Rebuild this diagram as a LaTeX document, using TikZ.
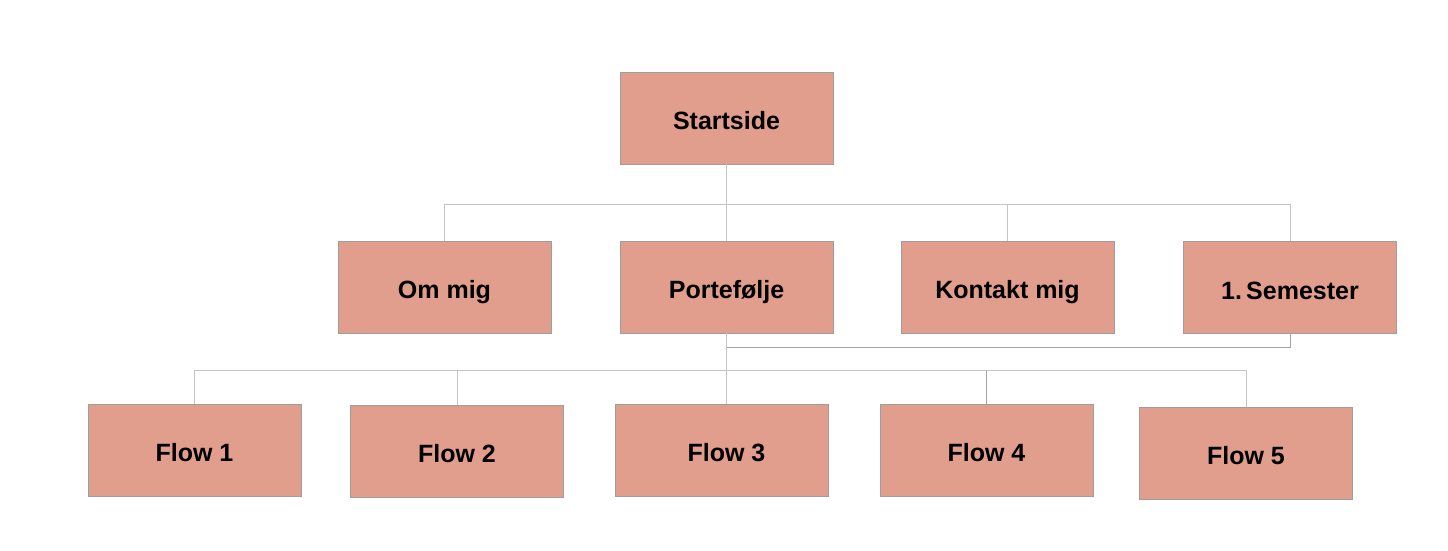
\documentclass[tikz,border=0pt]{standalone}
\usepackage{fontspec}
\setmainfont{Liberation Sans}
\definecolor{boxfill}{HTML}{E29E8C}
\definecolor{boxline}{HTML}{9E9E9E}
\definecolor{conn}{HTML}{C4C4C4}
\definecolor{conndark}{HTML}{A4A4A4}
\begin{document}
\begin{tikzpicture}[x=1pt,y=-1pt,
  pagebox/.style={draw=boxline, line width=0.8pt, fill=boxfill, minimum width=213pt, minimum height=92pt, inner sep=0pt, text height=23pt, text depth=0pt, font=\fontsize{25}{30}\selectfont\bfseries, text=black},
  link/.style={draw=conn, line width=1pt},
  linkdark/.style={draw=conndark, line width=1pt}]
\useasboundingbox (0,0) rectangle (1448,550);
\node[pagebox] (start) at (726.5,118) {Startside};
\node[pagebox] (om) at (444.5,287) {Om mig};
\node[pagebox] (port) at (726.5,287) {Portefølje};
\node[pagebox] (kont) at (1007.5,287) {Kontakt mig};
\node[pagebox] (sem) at (1290,287.5) {1.\,Semester};
\node[pagebox] (f1) at (194.5,450) {Flow 1};
\node[pagebox] (f2) at (457,451) {Flow 2};
\node[pagebox] (f3) at (721.5,450) {\hspace{10pt}Flow 3};
\node[pagebox] (f4) at (986.5,450) {Flow 4};
\node[pagebox] (f5) at (1246,453) {Flow 5};
\coordinate (j1) at (726.5,204);
\coordinate (j2) at (726.5,370);
% top level
\draw[link] (start.south) -- (j1);
\draw[link] (om.north) |- (j1);
\draw[link] (j1) -- (port.north);
\draw[link] (kont.north) |- (j1);
\draw[link] (sem.north) |- (j1);
% Portefølje to 1. Semester
\draw[linkdark] (port.south) ++(0,14) coordinate (j3) -| (sem.south);
\draw[link] (port.south) -- (j2);
% flows
\draw[link] (f1.north) |- (j2);
\draw[link] (f2.north) |- (j2);
\draw[link] (j2) -- (726.5,404) coordinate (j4);
\draw[linkdark] (f4.north) |- (j2);
\draw[link] (j2) -| (f5.north);
\end{tikzpicture}
\end{document}
